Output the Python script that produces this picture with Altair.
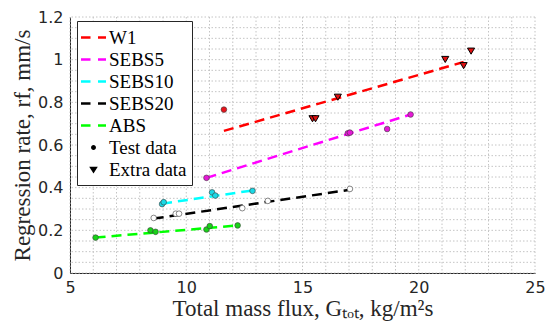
import altair as alt
import pandas as pd

SERIES = ["W1", "SEBS5", "SEBS10", "SEBS20", "ABS"]
LINE_COLORS = ["#ff0000", "#ff00ff", "#00ffff", "#000000", "#00ff00"]
FILL_COLORS = ["#e8141c", "#e619d6", "#19d9e6", "#ffffff", "#19d219"]

# Test data
w1_x = [11.62]
w1_y = [0.766]
sebs5_x = [10.87, 16.95, 17.04, 18.64, 19.65]
sebs5_y = [0.446, 0.655, 0.658, 0.675, 0.743]
sebs10_x = [8.96, 9.03, 11.11, 11.25, 12.85]
sebs10_y = [0.323, 0.332, 0.378, 0.363, 0.385]
sebs20_x = [8.60, 9.55, 9.69, 12.41, 13.51, 17.04]
sebs20_y = [0.258, 0.278, 0.278, 0.304, 0.338, 0.394]
abs_x = [6.10, 8.46, 8.68, 10.87, 11.01, 12.21]
abs_y = [0.166, 0.200, 0.193, 0.204, 0.220, 0.223]

# Extra data (W1)
extra_x = [15.43, 15.56, 16.52, 21.14, 21.93, 22.25]
extra_y = [0.723, 0.723, 0.824, 1.001, 0.972, 1.040]

# Fit lines: start/end per series
fit_x0 = [11.62, 10.87, 8.96, 8.60, 6.10]
fit_y0 = [0.666, 0.446, 0.325, 0.255, 0.166]
fit_x1 = [21.93, 19.65, 12.85, 17.04, 12.21]
fit_y1 = [0.989, 0.743, 0.387, 0.390, 0.223]

# Tick labels and grid positions
X_TICKS = [5, 10, 15, 20, 25]
Y_TICKS = [0, 0.2, 0.4, 0.6, 0.8, 1.0, 1.2]
X_GRID = [5, 6, 7, 8, 9, 10, 11, 12, 13, 14, 15, 16, 17, 18, 19, 20, 21, 22, 23, 24, 25]
Y_GRID = [0, 0.05, 0.1, 0.15, 0.2, 0.25, 0.3, 0.35, 0.4, 0.45, 0.5, 0.55, 0.6,
          0.65, 0.7, 0.75, 0.8, 0.85, 0.9, 0.95, 1.0, 1.05, 1.1, 1.15, 1.2]

LEGEND_LABELS = ["W1", "SEBS5", "SEBS10", "SEBS20", "ABS", "Test data", "Extra data"]
LEGEND_COLORS = ["#ff0000", "#ff00ff", "#00ffff", "#000000", "#00ff00", "#000000", "#000000"]
DASH = "M-1.25,0L-0.3,0M0.45,0L1.25,0"
DOT = "M-0.12,0A0.12,0.12,0,1,1,0.12,0A0.12,0.12,0,1,1,-0.12,0Z"
TRI = "M-0.2,-0.14L0.2,-0.14L0,0.17Z"
LEGEND_SHAPES = [DASH, DASH, DASH, DASH, DASH, DOT, TRI]

test_rows = []
for name, xs, ys in [("W1", w1_x, w1_y), ("SEBS5", sebs5_x, sebs5_y),
                     ("SEBS10", sebs10_x, sebs10_y), ("SEBS20", sebs20_x, sebs20_y),
                     ("ABS", abs_x, abs_y)]:
    for a, b in zip(xs, ys):
        test_rows.append({"x": a, "y": b, "series": name})
test_df = pd.DataFrame(test_rows)
extra_df = pd.DataFrame({"x": extra_x, "y": extra_y})
line_rows = []
for i, name in enumerate(SERIES):
    line_rows.append({"x": fit_x0[i], "y": fit_y0[i], "series": name})
    line_rows.append({"x": fit_x1[i], "y": fit_y1[i], "series": name})
line_df = pd.DataFrame(line_rows)
legend_df = pd.DataFrame({"label": LEGEND_LABELS})
xgrid_df = pd.DataFrame({"x": X_GRID})
ygrid_df = pd.DataFrame({"y": Y_GRID})

x_scale = alt.Scale(domain=[5, 25], nice=False, zero=False)
y_scale = alt.Scale(domain=[0, 1.2], nice=False)
x_axis = alt.Axis(values=X_TICKS, title="Total mass flux, Gₜₒₜ, kg/m²s", labelFlush=False)
y_axis = alt.Axis(values=Y_TICKS, title="Regression rate, rf, mm/s", format="~g", labelFlush=False)

GRID_STYLE = dict(stroke="#c4c4c4", strokeDash=[1.5, 2], strokeWidth=1)

xgrid = alt.Chart(xgrid_df).mark_rule(**GRID_STYLE).encode(
    x=alt.X("x:Q", scale=x_scale, axis=x_axis)
)
ygrid = alt.Chart(ygrid_df).mark_rule(**GRID_STYLE).encode(
    y=alt.Y("y:Q", scale=y_scale, axis=y_axis)
)

lines = alt.Chart(line_df).mark_line(strokeDash=[10, 6], strokeWidth=2.5).encode(
    x=alt.X("x:Q", scale=x_scale, axis=x_axis),
    y=alt.Y("y:Q", scale=y_scale, axis=y_axis),
    stroke=alt.Stroke("series:N", scale=alt.Scale(domain=SERIES, range=LINE_COLORS), legend=None),
    detail="series:N",
)

points = alt.Chart(test_df).mark_point(
    filled=True, shape="circle", size=32, stroke="#3a3a3a", strokeWidth=0.6, opacity=1
).encode(
    x=alt.X("x:Q", scale=x_scale, axis=x_axis),
    y=alt.Y("y:Q", scale=y_scale, axis=y_axis),
    fill=alt.Fill("series:N", scale=alt.Scale(domain=SERIES, range=FILL_COLORS), legend=None),
)

extras = alt.Chart(extra_df).mark_point(
    shape="triangle-down", filled=True, fill="#e01010", stroke="#000000",
    strokeWidth=1, size=50, opacity=1
).encode(
    x=alt.X("x:Q", scale=x_scale, axis=x_axis),
    y=alt.Y("y:Q", scale=y_scale, axis=y_axis),
)

leg = alt.Legend(
    orient="none", legendX=7, legendY=4, title=None,
    labelFont="Liberation Serif", labelFontSize=19, labelColor="#000000",
    symbolSize=400, symbolStrokeWidth=2.5, padding=5, rowPadding=0,
    labelOffset=4, strokeColor="#262626", fillColor="#ffffff", cornerRadius=0,
)
legend_layer = alt.Chart(legend_df).transform_filter("false").mark_point(
    filled=False, opacity=1, strokeWidth=2.5
).encode(
    color=alt.Color("label:N", scale=alt.Scale(domain=LEGEND_LABELS, range=LEGEND_COLORS), legend=leg),
    shape=alt.Shape("label:N", scale=alt.Scale(domain=LEGEND_LABELS, range=LEGEND_SHAPES), legend=leg),
)

chart = alt.layer(xgrid, ygrid, lines, points, extras, legend_layer).properties(
    width=465, height=256,
    autosize=alt.AutoSizeParams(type="none"),
    padding={"left": 62, "top": 9, "right": 10, "bottom": 48},
).configure_view(stroke=None).configure_axis(
    grid=False, ticks=False, domainColor="#262626", domainWidth=1,
    labelFont="DejaVu Sans", labelFontSize=16, labelColor="#262626",
    titleFont="Liberation Serif", titleFontSize=23, titleFontWeight="normal", titleColor="#262626",
).configure_axisX(labelPadding=6, titlePadding=2).configure_axisY(labelPadding=7, titlePadding=3)

chart.save("out.html", embed_options={"renderer": "svg", "actions": False})
